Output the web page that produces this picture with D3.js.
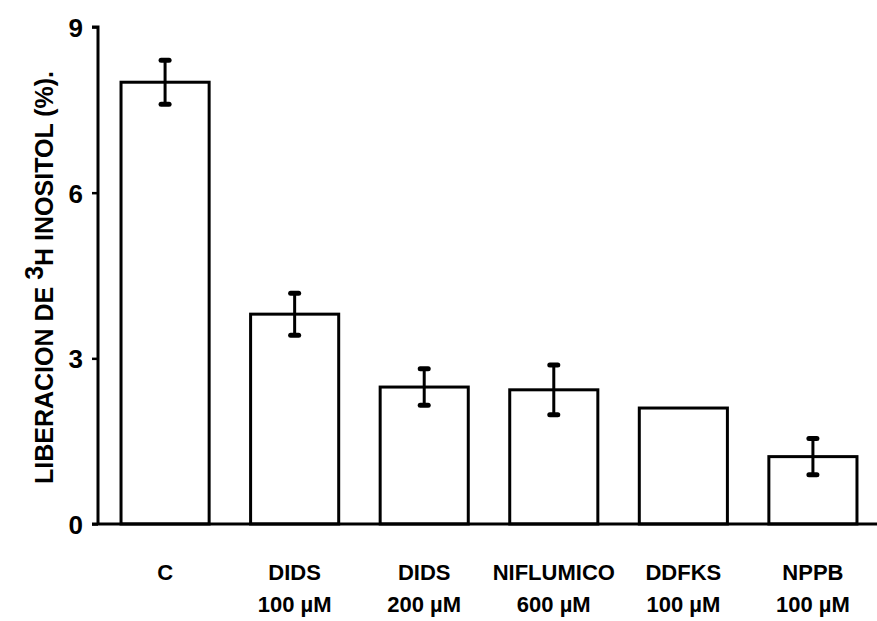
<!DOCTYPE html>
<html>
<head>
<meta charset="utf-8">
<script src="https://cdn.jsdelivr.net/npm/d3@7"></script>
<style>
    body { margin: 0; background: #fff; }
    text { font-family: "Liberation Sans", Arial, sans-serif; font-weight: bold; fill: #000; }
</style>
</head>
<body>
<script>
    // Data
    let groups = ["C", "DIDS", "DIDS", "NIFLUMICO", "DDFKS", "NPPB"];
    let doses = ["", "100 \u00b5M", "200 \u00b5M", "600 \u00b5M", "100 \u00b5M", "100 \u00b5M"];
    let values = [8.0, 3.8, 2.48, 2.43, 2.1, 1.22];
    let errors = [0.4, 0.38, 0.33, 0.45, 0, 0.33];
    let yTicks = [0, 3, 6, 9];

    let W = 877, H = 621;
    let margin = { top: 27, right: 0, bottom: 97, left: 98 };

    let svg = d3.select("body").append("svg")
        .attr("width", W)
        .attr("height", H);

    let x = d3.scaleBand()
        .domain(d3.range(groups.length))
        .range([margin.left + 1, 879])
        .paddingInner(0.32)
        .paddingOuter(0.17);

    let y = d3.scaleLinear()
        .domain([0, 9])
        .range([H - margin.bottom, margin.top]);

    let cx = i => x(i) + x.bandwidth() / 2;

    // bars
    svg.selectAll("rect.bar")
        .data(values)
        .enter()
        .append("rect")
        .attr("class", "bar")
        .attr("x", (d, i) => x(i))
        .attr("y", d => y(d))
        .attr("width", x.bandwidth())
        .attr("height", d => y(0) - y(d))
        .attr("fill", "#fff")
        .attr("stroke", "#000")
        .attr("stroke-width", 3);

    // error bars
    values.forEach((v, i) => {
        if (!errors[i]) return;
        let g = svg.append("g").attr("stroke", "#000").attr("stroke-linecap", "round");
        g.append("line")
            .attr("x1", cx(i)).attr("x2", cx(i))
            .attr("y1", y(v + errors[i])).attr("y2", y(v - errors[i]))
            .attr("stroke-width", 3);
        [v + errors[i], v - errors[i]].forEach(e => {
            g.append("line")
                .attr("x1", cx(i) - 4).attr("x2", cx(i) + 4)
                .attr("y1", y(e)).attr("y2", y(e))
                .attr("stroke-width", 5);
        });
    });

    // y axis
    let yAxis = svg.append("g")
        .attr("transform", `translate(${margin.left},0)`)
        .call(d3.axisLeft(y).tickValues(yTicks).tickSize(6).tickPadding(9).tickFormat(d3.format("d")));
    yAxis.select(".domain").attr("d", `M-6,${y(9)}H0V${y(0)}`).attr("stroke-width", 3);
    yAxis.selectAll(".tick line").attr("stroke-width", 2.5);
    yAxis.selectAll(".tick text")
        .style("font-size", "26px")
        .style("font-family", "Liberation Sans, Arial, sans-serif")
        .style("font-weight", "bold")
        .attr("dy", "0.36em");

    // x baseline
    svg.append("line")
        .attr("x1", margin.left - 6).attr("x2", W)
        .attr("y1", y(0)).attr("y2", y(0))
        .attr("stroke", "#000")
        .attr("stroke-width", 3);

    // category labels
    let lab = svg.selectAll("text.cat")
        .data(groups)
        .enter()
        .append("text")
        .attr("class", "cat")
        .attr("text-anchor", "middle")
        .style("font-size", "22px");
    lab.append("tspan")
        .attr("x", (d, i) => cx(i))
        .attr("y", 580)
        .text(d => d);
    lab.append("tspan")
        .attr("x", (d, i) => cx(i))
        .attr("y", 612)
        .text((d, i) => doses[i]);

    // y title
    let yt = svg.append("text")
        .attr("transform", `translate(53,${(y(0) + y(9)) / 2 + 2}) rotate(-90)`)
        .attr("text-anchor", "middle")
        .style("font-size", "25px");
    yt.append("tspan").text("LIBERACION DE ");
    yt.append("tspan").attr("dy", -10).text("3");
    yt.append("tspan").attr("dy", 10).text("H INOSITOL (%).");
</script>
</body>
</html>
